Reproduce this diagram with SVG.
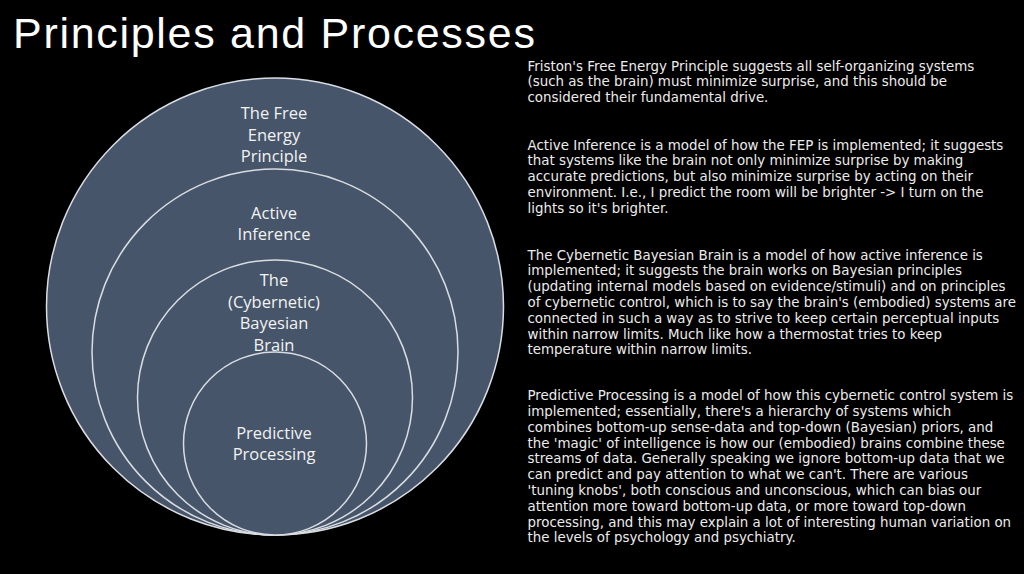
<svg xmlns="http://www.w3.org/2000/svg" width="1024" height="574" viewBox="0 0 1024 574">
<style>
.ring{fill:#465569;stroke:#d9dde3;stroke-width:1.5}
.lbl{font-family:"Open Sans","Noto Sans",sans-serif;font-size:16.5px;fill:#f2f2f2;text-anchor:middle}
.body{font-family:"DejaVu Sans",sans-serif;font-size:13.4px;fill:#ececec}
.title{font-family:"Liberation Sans",Arial,sans-serif;font-size:43px;letter-spacing:1.7px;fill:#ffffff}
</style>
<rect width="1024" height="574" fill="#000000"/>
<text class="title" x="13" y="48">Principles and Processes</text>
<g id="fep">
<circle class="ring" cx="275" cy="306.5" r="228.5"/>
<text class="lbl" x="274" y="119">The Free</text>
<text class="lbl" x="274" y="140.5">Energy</text>
<text class="lbl" x="274" y="162">Principle</text>
</g>
<g id="active-inference">
<circle class="ring" cx="275" cy="352" r="183"/>
<text class="lbl" x="274" y="218.5">Active</text>
<text class="lbl" x="274" y="240">Inference</text>
</g>
<g id="bayesian-brain">
<circle class="ring" cx="275" cy="397.5" r="137.5"/>
<text class="lbl" x="274" y="286">The</text>
<text class="lbl" x="274" y="307.5">(Cybernetic)</text>
<text class="lbl" x="274" y="329">Bayesian</text>
<text class="lbl" x="274" y="350.5">Brain</text>
</g>
<g id="predictive-processing">
<circle class="ring" cx="275" cy="443.5" r="91.5"/>
<text class="lbl" x="274" y="438.5">Predictive</text>
<text class="lbl" x="274" y="460">Processing</text>
</g>
<g id="connectors"></g>
<g id="descriptions">
<text class="body" x="527.5" y="70.5">Friston's Free Energy Principle suggests all self-organizing systems</text>
<text class="body" x="527.5" y="86.3">(such as the brain) must minimize surprise, and this should be</text>
<text class="body" x="527.5" y="102.1">considered their fundamental drive.</text>
<text class="body" x="527.5" y="149.5">Active Inference is a model of how the FEP is implemented; it suggests</text>
<text class="body" x="527.5" y="165.3">that systems like the brain not only minimize surprise by making</text>
<text class="body" x="527.5" y="181.1">accurate predictions, but also minimize surprise by acting on their</text>
<text class="body" x="527.5" y="196.9">environment. I.e., I predict the room will be brighter -&gt; I turn on the</text>
<text class="body" x="527.5" y="212.7">lights so it's brighter.</text>
<text class="body" x="527.5" y="259.5">The Cybernetic Bayesian Brain is a model of how active inference is</text>
<text class="body" x="527.5" y="275.3">implemented; it suggests the brain works on Bayesian principles</text>
<text class="body" x="527.5" y="291.1">(updating internal models based on evidence/stimuli) and on principles</text>
<text class="body" x="527.5" y="306.9">of cybernetic control, which is to say the brain's (embodied) systems are</text>
<text class="body" x="527.5" y="322.7">connected in such a way as to strive to keep certain perceptual inputs</text>
<text class="body" x="527.5" y="338.5">within narrow limits. Much like how a thermostat tries to keep</text>
<text class="body" x="527.5" y="354.3">temperature within narrow limits.</text>
<text class="body" x="527.5" y="400.2">Predictive Processing is a model of how this cybernetic control system is</text>
<text class="body" x="527.5" y="416">implemented; essentially, there's a hierarchy of systems which</text>
<text class="body" x="527.5" y="431.8">combines bottom-up sense-data and top-down (Bayesian) priors, and</text>
<text class="body" x="527.5" y="447.6">the 'magic' of intelligence is how our (embodied) brains combine these</text>
<text class="body" x="527.5" y="463.4">streams of data. Generally speaking we ignore bottom-up data that we</text>
<text class="body" x="527.5" y="479.2">can predict and pay attention to what we can't. There are various</text>
<text class="body" x="527.5" y="495">'tuning knobs', both conscious and unconscious, which can bias our</text>
<text class="body" x="527.5" y="510.8">attention more toward bottom-up data, or more toward top-down</text>
<text class="body" x="527.5" y="526.6">processing, and this may explain a lot of interesting human variation on</text>
<text class="body" x="527.5" y="542.4">the levels of psychology and psychiatry.</text>
</g>
</svg>
